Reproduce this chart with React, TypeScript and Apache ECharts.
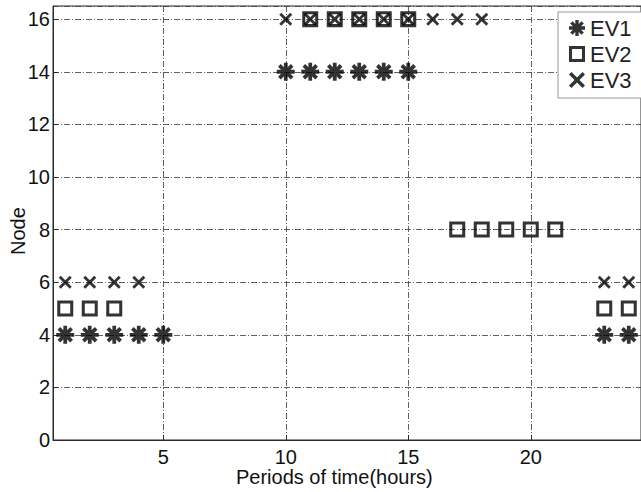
import React, { useEffect, useRef } from "react";
import * as echarts from "echarts";

const ev1X = [1, 2, 3, 4, 5, 10, 11, 12, 13, 14, 15, 23, 24];
const ev1Y = [4, 4, 4, 4, 4, 14, 14, 14, 14, 14, 14, 4, 4];
const ev2X = [1, 2, 3, 11, 12, 13, 14, 15, 17, 18, 19, 20, 21, 23, 24];
const ev2Y = [5, 5, 5, 16, 16, 16, 16, 16, 8, 8, 8, 8, 8, 5, 5];
const ev3X = [1, 2, 3, 4, 10, 11, 12, 13, 14, 15, 16, 17, 18, 23, 24];
const ev3Y = [6, 6, 6, 6, 16, 16, 16, 16, 16, 16, 16, 16, 16, 6, 6];
const seriesNames = ["EV1", "EV2", "EV3"];
const xTitle = "Periods of time(hours)";
const yTitle = "Node";

const FONT = "'Liberation Sans', Arial, sans-serif";

// filled bar from the centre, along direction angle a, half-length L, half-width w
function bar(a: number, L: number, w: number) {
  const dx = Math.cos(a), dy = Math.sin(a);
  const px = -dy, py = dx;
  const pts = [
    [L * dx - w * px, L * dy - w * py],
    [L * dx + w * px, L * dy + w * py],
    [-L * dx + w * px, -L * dy + w * py],
    [-L * dx - w * px, -L * dy - w * py],
  ];
  return "M" + pts.map((p) => p[0].toFixed(3) + " " + p[1].toFixed(3)).join(" L") + " Z";
}
const ASTERISK =
  "path://" +
  [0, Math.PI / 4, Math.PI / 2, (3 * Math.PI) / 4].map((a) => bar(a, 1, 0.21)).join(" ");
const CROSS =
  "path://" + [Math.PI / 4, (3 * Math.PI) / 4].map((a) => bar(a, 1.2, 0.22)).join(" ");
const HOLLOW_SQUARE =
  "path://M-1 -1 L1 -1 L1 1 L-1 1 Z M-0.62 -0.62 L-0.62 0.62 L0.62 0.62 L0.62 -0.62 Z";

const zip = (xs: number[], ys: number[]) => xs.map((x, i) => [x, ys[i]]);

export default function App() {
  const ref = useRef<HTMLDivElement>(null);
  useEffect(() => {
    if (!ref.current) return;
    const chart = echarts.init(ref.current, undefined, { renderer: "svg" });
    const grid = "#3a3a3a";
    chart.setOption({
      animation: false,
      backgroundColor: "#ffffff",
      textStyle: { fontFamily: FONT },
      grid: {
        left: 53,
        top: 6,
        right: -5,
        bottom: 52,
        show: true,
        borderColor: "#2a2a2a",
        borderWidth: 1,
      },
      xAxis: {
        type: "value",
        min: 0.5,
        max: 24.5,
        splitNumber: 5,
        axisLine: { show: true, lineStyle: { color: "#2a2a2a", width: 1 } },
        axisTick: { show: true, inside: true, length: 5, lineStyle: { color: "#2a2a2a" } },
        axisLabel: {
          showMinLabel: false,
          showMaxLabel: false,
          color: "#111",
          fontSize: 20,
          fontFamily: FONT,
          margin: 7,
        },
        splitLine: {
          show: true,
          lineStyle: { color: grid, width: 0.8, type: [6, 2, 1, 2] },
        },
      },
      yAxis: {
        type: "value",
        min: 0,
        max: 16.5,
        interval: 2,
        axisLine: { show: true, lineStyle: { color: "#2a2a2a", width: 1 } },
        axisTick: { show: true, inside: true, length: 5, lineStyle: { color: "#2a2a2a" } },
        axisLabel: {
          showMaxLabel: false,
          color: "#111",
          fontSize: 20,
          fontFamily: FONT,
          margin: 3,
        },
        splitLine: {
          show: true,
          lineStyle: { color: grid, width: 0.8, type: [6, 2, 1, 2] },
        },
      },
      legend: {
        orient: "vertical",
        left: 558,
        top: 12,
        padding: [5, 40, 7, 11],
        itemGap: 4,
        itemWidth: 16,
        itemHeight: 16,
        backgroundColor: "#fff",
        borderColor: "#999",
        borderWidth: 1,
        borderRadius: 0,
        textStyle: { fontSize: 22, color: "#222", fontFamily: FONT, lineHeight: 21 },
        data: [
          { name: seriesNames[0], icon: ASTERISK },
          { name: seriesNames[1], icon: HOLLOW_SQUARE },
          { name: seriesNames[2], icon: CROSS },
        ],
      },
      graphic: [
        {
          type: "text",
          left: 236,
          top: 467,
          style: { text: xTitle, fontSize: 20, fill: "#111", fontFamily: FONT },
        },
        {
          type: "text",
          x: 8,
          y: 255,
          rotation: Math.PI / 2,
          style: { text: yTitle, fontSize: 20, fill: "#111", fontFamily: FONT },
        },
      ],
      series: [
        {
          name: seriesNames[0],
          type: "scatter",
          data: zip(ev1X, ev1Y),
          symbol: ASTERISK,
          symbolSize: 18,
          itemStyle: { color: "#000" },
        },
        {
          name: seriesNames[1],
          type: "scatter",
          data: zip(ev2X, ev2Y),
          symbol: HOLLOW_SQUARE,
          symbolSize: 16,
          itemStyle: { color: "#000" },
        },
        {
          name: seriesNames[2],
          type: "scatter",
          data: zip(ev3X, ev3Y),
          symbol: CROSS,
          symbolSize: 13,
          itemStyle: { color: "#000" },
        },
      ],
    });
    return () => chart.dispose();
  }, []);
  return (
    <div
      ref={ref}
      style={{ position: "absolute", left: 0, top: 0, width: 641, height: 492 }}
    />
  );
}
